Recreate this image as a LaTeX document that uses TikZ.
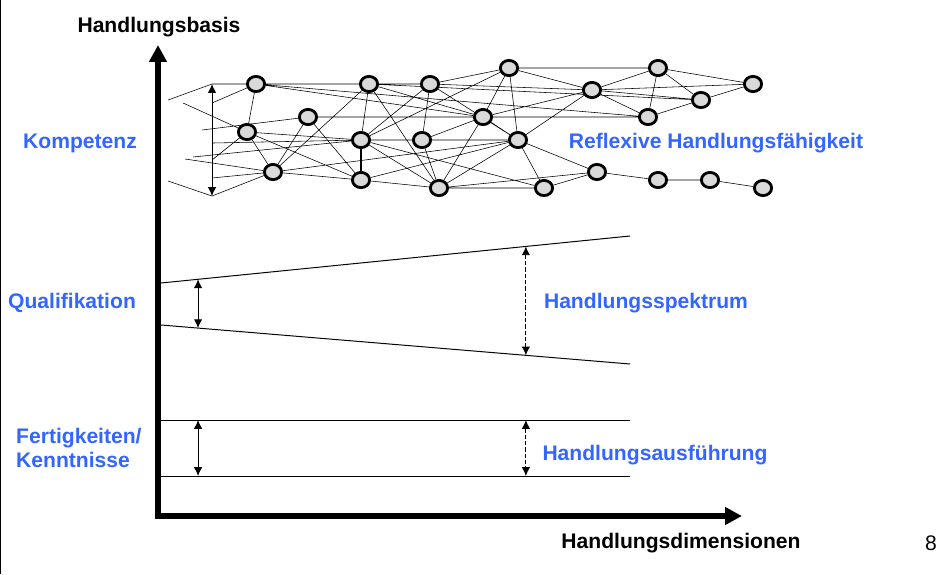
\documentclass[tikz,border=0pt]{standalone}
\usepackage{fontspec}
\setmainfont{Liberation Sans}
\usepackage{xcolor}
\usepackage{tikz}
\usetikzlibrary{arrows.meta}
\usetikzlibrary{shapes.geometric}
\usetikzlibrary{backgrounds}
\definecolor{labelblue}{RGB}{51,102,255}
\tikzset{
	knot/.style={ellipse,draw,line width=2pt,fill=gray!30,minimum width=4.3mm,minimum height=3.8mm,inner sep=0pt},
	lbl/.style={font=\fontsize{15}{16.5}\selectfont\bfseries},
	bluelbl/.style={lbl,text=labelblue},
	spanarrow/.style={{Latex[length=2.2mm,width=2.1mm]}-{Latex[length=2.2mm,width=2.1mm]},line width=0.7pt},
	mainaxis/.style={line width=3.6pt,{Triangle[length=4.2mm,width=4.2mm]}-{Triangle[length=4.2mm,width=4.2mm]}}
}

\begin{document}
\begin{tikzpicture}[x=0.025cm,y=-0.025cm,line width=0.7pt]
	\useasboundingbox (0,0) rectangle (943,574);
	\draw[line width=0.8pt] (0.6,0) -- (0.6,574);
	% axes
	\draw[mainaxis] (158,45) -- (158,516) -- (742,516);
	\node[lbl] (basis) at (159,27) {Handlungsbasis};
	\node[lbl] (dim) at (681,543) {Handlungsdimensionen};
	\node[font=\fontsize{15}{16.5}\selectfont] (page) at (931,543) {8};
	% levels
	\node[bluelbl] (komp) at (80,143) {Kompetenz};
	\node[bluelbl] (refl) at (716,143) {Reflexive Handlungsfähigkeit};
	\node[bluelbl] (qual) at (72,303) {Qualifikation};
	\node[bluelbl] (spek) at (646,303) {Handlungsspektrum};
	\node[bluelbl,align=left,anchor=west] (fert) at (11,448) {Fertigkeiten/\\Kenntnisse};
	\node[bluelbl] (ausf) at (655,455) {Handlungsausführung};
	% qualification: widening band
	\draw (161,283) -- (630,236) coordinate[pos=0.079] (qa) coordinate[pos=0.778] (qb);
	\draw (161,325) -- (630,364) coordinate[pos=0.079] (qc) coordinate[pos=0.778] (qd);
	\draw[spanarrow] (qa) -- (qc);
	\draw[spanarrow,dash pattern=on 3pt off 1.5pt] (qb) -- (qd);
	% skills: constant band
	\draw (161,420) -- (630,420) coordinate[pos=0.079] (fa) coordinate[pos=0.778] (fb);
	\draw (161,476) -- (630,476) coordinate[pos=0.079] (fc) coordinate[pos=0.778] (fd);
	\draw[spanarrow] (fa) -- (fc);
	\draw[spanarrow,dash pattern=on 3pt off 1.5pt] (fb) -- (fd);
	% competence network
	\node[knot] (a1) at (256,84) {}; \node[knot] (a2) at (369,84) {}; \node[knot] (a3) at (430,84) {};
	\node[knot] (a4) at (509,68) {}; \node[knot] (a5) at (658,68) {}; \node[knot] (a6) at (753,84) {};
	\node[knot] (b1) at (308,117) {}; \node[knot] (b2) at (483,117) {}; \node[knot] (b3) at (592,90) {};
	\node[knot] (b4) at (701,100) {}; \node[knot] (b5) at (648,117) {};
	\node[knot] (c1) at (247,132) {}; \node[knot] (c2) at (361,140) {}; \node[knot] (c3) at (422,140) {};
	\node[knot] (c4) at (518,140) {};
	\node[knot] (d1) at (273,172) {}; \node[knot] (d2) at (361,180) {}; \node[knot] (d3) at (439,188) {};
	\node[knot] (d4) at (544,188) {}; \node[knot] (d5) at (597,172) {}; \node[knot] (d6) at (658,180) {};
	\node[knot] (d7) at (710,180) {}; \node[knot] (d8) at (763,188) {};
	\coordinate (kt) at (212,84); \coordinate (kb) at (212,196);
	\coordinate (s1) at (168,100); \coordinate (s3) at (212,103); \coordinate (s4) at (183,103);
	\coordinate (s5) at (202,130); \coordinate (s6) at (193,157); \coordinate (s7) at (185,159);
	\coordinate (s8) at (212,160); \coordinate (s9) at (212,178); \coordinate (s10) at (168,181);
	\coordinate (s12) at (213,143);
	\draw[spanarrow] (kt) -- (kb);
	\begin{scope}[on background layer]
		\draw (s1)--(kt)--(a1) (s3)--(a1) (s4)--(c1) (s5)--(b1) (s12)--(c2) (s6)--(c2)
			(s7)--(d1) (s8)--(c1) (s9)--(d1) (s10)--(kb)--(d1);
		\draw (a1)--(a2)--(a3)--(a4)--(a5)--(a6)
			(a1)--(c1) (a1)--(b2) (a1)--(b5)
			(a2)--(c2) (a2)--(d1) (a2)--(d3) (a2)--(b2) (a2)--(b4)
			(a3)--(c2) (a3)--(c3) (a3)--(b3) (a3)--(c4)
			(a4)--(c2) (a4)--(b2) (a4)--(c4) (a4)--(b3)
			(a5)--(b3) (a5)--(b5) (a5)--(b4)
			(b3)--(b4) (b3)--(a6) (b3)--(b5) (b3)--(b2) (b3)--(c4)
			(b4)--(a6) (b4)--(b5)
			(b1)--(b2)--(b5) (b1)--(d1) (b1)--(d2)
			(c1)--(c2) (c1)--(d1) (c1)--(d2)
			(c2)--(c3) (c2)--(d3) (c2)--(d4)
			(c3)--(c4) (c3)--(d3) (c3)--(b2)
			(c4)--(b2) (c4)--(d4) (c4)--(d5) (c4)--(d3) (c4)--(d2)
			(d1)--(d2) (d1)--(c4)
			(d2)--(d3)--(d4)--(d5)--(d6)--(d7)--(d8)
			(d3)--(d5) (d3)--(b2);
		\draw[line width=1.6pt] (c2)--(d2);
	\end{scope}
\end{tikzpicture}
\end{document}
